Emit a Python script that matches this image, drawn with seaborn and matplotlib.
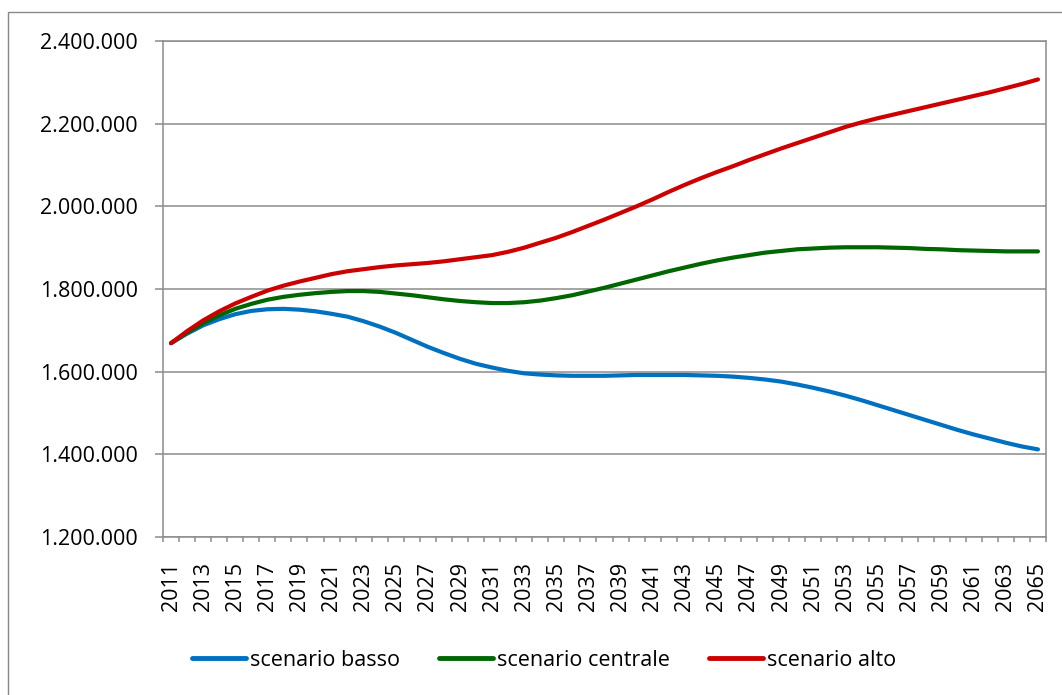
import numpy as np
import matplotlib
matplotlib.use('Agg')
import matplotlib.pyplot as plt
from matplotlib.patches import Rectangle
from matplotlib.ticker import FuncFormatter, MultipleLocator
import seaborn as sns
import pandas as pd

sns.set_style('white')
plt.rcParams['font.family'] = ['Open Sans', 'DejaVu Sans']
plt.rcParams['text.color'] = 'black'
plt.rcParams['xtick.labelcolor'] = 'black'
plt.rcParams['ytick.labelcolor'] = 'black'

anni = list(range(2011, 2066))

# values in thousands
basso = [1669, 1692, 1712, 1727, 1739, 1747, 1751, 1752, 1750, 1746,
         1740, 1733, 1722, 1709, 1694, 1677, 1660, 1645, 1631, 1619,
         1610, 1602, 1596, 1593, 1591, 1590, 1590, 1590, 1591, 1592,
         1592, 1592, 1592, 1591, 1590, 1588, 1585, 1581, 1576, 1569,
         1561, 1552, 1542, 1531, 1519, 1507, 1495, 1483, 1471, 1459,
         1448, 1438, 1428, 1419, 1412]
centrale = [1669, 1694, 1717, 1736, 1752, 1764, 1774, 1781, 1786, 1790,
            1793, 1795, 1795, 1793, 1789, 1785, 1780, 1775, 1771, 1768,
            1766, 1766, 1768, 1772, 1778, 1785, 1794, 1803, 1813, 1823,
            1833, 1843, 1852, 1861, 1869, 1876, 1882, 1888, 1892, 1896,
            1898, 1900, 1901, 1901, 1901, 1900, 1899, 1897, 1896, 1894,
            1893, 1892, 1891, 1891, 1891]
alto = [1669, 1698, 1724, 1746, 1765, 1781, 1796, 1808, 1818, 1827,
        1836, 1843, 1848, 1853, 1857, 1860, 1863, 1867, 1872, 1877,
        1882, 1890, 1900, 1912, 1924, 1938, 1953, 1968, 1984, 2000,
        2017, 2035, 2052, 2068, 2083, 2097, 2112, 2126, 2140, 2153,
        2166, 2179, 2192, 2203, 2213, 2222, 2231, 2240, 2249, 2258,
        2267, 2276, 2286, 2296, 2307]

serie = ['scenario basso', 'scenario centrale', 'scenario alto']
colori = ['#0070C0', '#006600', '#CC0000']

df = pd.DataFrame({'anno': anni, serie[0]: basso, serie[1]: centrale, serie[2]: alto})
df = df.melt(id_vars='anno', var_name='scenario', value_name='popolazione')
df['popolazione'] = df['popolazione'] * 1000

fig = plt.figure(figsize=(10.62, 6.95), dpi=100)
ax = fig.add_axes([163/1062, 1 - 537/695, (1046 - 163)/1062, (537 - 41)/695])

sns.lineplot(data=df, x='anno', y='popolazione', hue='scenario',
             palette=dict(zip(serie, colori)), linewidth=3,
             solid_capstyle='round', ax=ax, legend=True)

grigio = '#8C8C8C'
ax.set_xlim(2010.5, 2065.5)
ax.set_ylim(1200000, 2400000)
ax.yaxis.set_major_locator(MultipleLocator(200000))
ax.yaxis.set_major_formatter(FuncFormatter(lambda v, p: '{:,.0f}'.format(v).replace(',', '.')))
ax.set_xticks(anni[::2])
ax.set_xticklabels([str(a) for a in anni[::2]], rotation=90)
ax.set_xticks(np.arange(2010.5, 2066, 1), minor=True)
ax.grid(axis='y', color=grigio, linewidth=1.1)
ax.set_axisbelow(True)
ax.set_xlabel('')
ax.set_ylabel('')

for s in ax.spines.values():
    s.set_visible(True)
    s.set_color(grigio)
    s.set_linewidth(1.1)

ax.tick_params(axis='y', which='major', direction='out', length=6, width=1.1,
               color=grigio, pad=12, labelsize=15.5, left=True)
ax.tick_params(axis='x', which='major', length=0, pad=18, labelsize=15.5, bottom=True)
ax.tick_params(axis='x', which='minor', direction='out', length=3.6, width=1.1,
               color=grigio, bottom=True)

handles, labels = ax.get_legend_handles_labels()
ax.get_legend().remove()
for h in handles:
    h.set_linewidth(3.5)
fig.legend(handles, labels, loc='center', bbox_to_anchor=(544/1062, 1 - 660/695),
           ncol=3, frameon=False, fontsize=15.5, handlelength=2.5,
           handletextpad=0.2, columnspacing=1.8)

# chart area border
fig.patches.append(Rectangle((8/1062, -0.1), 2, 1 - 12/695 + 0.1, transform=fig.transFigure,
                             fill=False, edgecolor='#898989', linewidth=1.0))

plt.savefig('out.png', dpi=100)
